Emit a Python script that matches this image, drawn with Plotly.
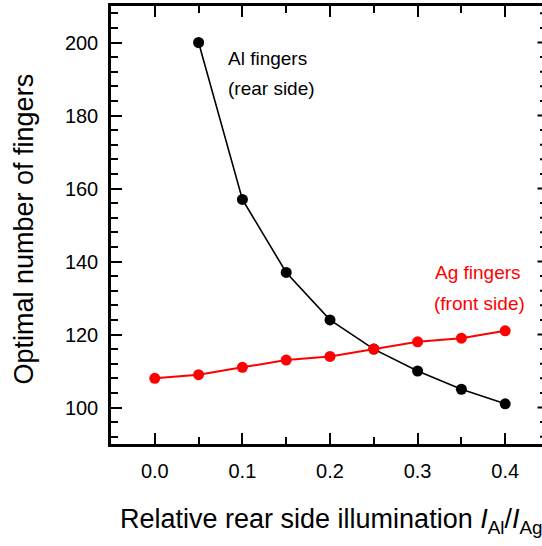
import plotly.graph_objects as go

# Data
x_al = [0.05, 0.10, 0.15, 0.20, 0.25, 0.30, 0.35, 0.40]
y_al = [200, 157, 137, 124, 116, 110, 105, 101]
x_ag = [0.00, 0.05, 0.10, 0.15, 0.20, 0.25, 0.30, 0.35, 0.40]
y_ag = [108, 109, 111, 113, 114, 116, 118, 119, 121]

x_ticks = [0.0, 0.1, 0.2, 0.3, 0.4]
x_tick_labels = ["0.0", "0.1", "0.2", "0.3", "0.4"]
y_ticks = [100, 120, 140, 160, 180, 200]
y_tick_labels = ["100", "120", "140", "160", "180", "200"]
y_minor_ticks = [92, 96, 104, 108, 112, 116, 124, 128, 132, 136, 144, 148, 152, 156,
                 164, 168, 172, 176, 184, 188, 192, 196, 204, 208]

FONT = "Liberation Sans, Arial, sans-serif"
W, H = 542, 546
ML, MR, MT, MB = 111, 0, 6, 102
plot_w = W - ML - MR
plot_h = H - MT - MB

fig = go.Figure()
fig.add_trace(go.Scatter(x=x_al, y=y_al, mode="lines+markers",
                         line=dict(color="black", width=1.6),
                         marker=dict(color="black", size=11), showlegend=False))
fig.add_trace(go.Scatter(x=x_ag, y=y_ag, mode="lines+markers",
                         line=dict(color="#ff0000", width=2),
                         marker=dict(color="#ff0000", size=11), showlegend=False))

axis_common = dict(showgrid=False, zeroline=False, showline=True, linecolor="black",
                   linewidth=2.5, ticks="inside", tickwidth=2, tickcolor="black",
                   tickfont=dict(family=FONT, size=20, color="black"))

fig.update_xaxes(**axis_common, range=[-0.05, -0.05 + 0.5 * plot_w / plot_h],
                 tickvals=x_ticks, ticktext=x_tick_labels, ticklen=11,
                 mirror="allticks", ticklabelstandoff=7,
                 minor=dict(dtick=0.05, tick0=0, ticks="inside", ticklen=7,
                            tickwidth=2, tickcolor="black"))
fig.update_yaxes(**axis_common, range=[90, 210], tickvals=y_ticks, ticktext=y_tick_labels,
                 ticklen=11, ticklabelstandoff=6,
                 minor=dict(tickvals=y_minor_ticks, ticks="inside", ticklen=7,
                            tickwidth=2, tickcolor="black"))

# right-side (cut-off) axis ticks
shapes = []
for v in y_ticks:
    shapes.append(dict(type="line", xref="paper", yref="y",
                       x0=(537.5 - ML) / plot_w, x1=1.0, y0=v, y1=v,
                       line=dict(color="black", width=2)))
for v in y_minor_ticks:
    shapes.append(dict(type="line", xref="paper", yref="y",
                       x0=(540 - ML) / plot_w, x1=1.0, y0=v, y1=v,
                       line=dict(color="black", width=2)))
fig.update_layout(shapes=shapes)

def note(text, x, y, color):
    return dict(text=text, x=x, y=y, xref="x", yref="y", xanchor="left", yanchor="middle",
                showarrow=False, align="left", font=dict(family=FONT, size=19, color=color))

annotations = [
    note("Al fingers", 0.081, 195.5, "black"),
    note("(rear side)", 0.081, 187.3, "black"),
    note("Ag fingers", 0.3174, 137.1, "#ff0000"),
    note("(front side)", 0.316, 128.6, "#ff0000"),
    dict(text="Relative rear side illumination <i>I</i><sub>Al</sub>/<i>I</i><sub>Ag</sub>",
         x=(118 - ML) / plot_w, y=-(521 - (MT + plot_h)) / plot_h, xref="paper", yref="paper",
         xanchor="left", yanchor="middle", showarrow=False,
         font=dict(family=FONT, size=27, color="black")),
    dict(text="Optimal number of fingers", textangle=-90,
         x=(23.5 - ML) / plot_w, y=(MT + plot_h - 229) / plot_h, xref="paper", yref="paper",
         xanchor="center", yanchor="middle", showarrow=False,
         font=dict(family=FONT, size=27, color="black")),
]
fig.update_layout(annotations=annotations)

fig.update_layout(width=W, height=H, margin=dict(l=ML, r=MR, t=MT, b=MB),
                  plot_bgcolor="white", paper_bgcolor="white",
                  font=dict(family=FONT, color="black"))

fig.write_html("out.html")
